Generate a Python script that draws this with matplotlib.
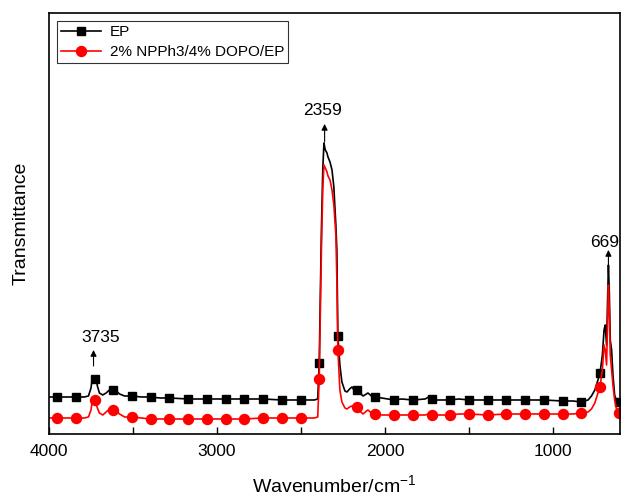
import numpy as np
import matplotlib
matplotlib.use('Agg')
import matplotlib.pyplot as plt

plt.rcParams['font.family'] = ['Liberation Sans', 'DejaVu Sans']
plt.rcParams['mathtext.default'] = 'regular'

# Spectra (arbitrary transmittance units)
wavenumber = [4000, 3952, 3900, 3840, 3790, 3765, 3750, 3742, 3735, 3729,
              3722, 3712, 3700, 3680, 3660, 3640, 3618, 3600, 3580, 3550,
              3506, 3450, 3395, 3340, 3283, 3172, 3060, 2948, 2837, 2726,
              2614, 2502, 2420, 2400, 2391, 2385, 2378, 2370, 2363, 2355,
              2345, 2339, 2327, 2315, 2304, 2292, 2286, 2280, 2268, 2256,
              2238, 2226, 2210, 2196, 2180, 2168, 2150, 2130, 2110, 2101,
              2080, 2056, 2020, 1945, 1900, 1834, 1760, 1740, 1722, 1700,
              1610, 1560, 1499, 1388, 1276, 1164, 1100, 1053, 942, 880,
              830, 790, 770, 750, 735, 719, 705, 695, 688, 680,
              674, 669, 664, 658, 650, 642, 632, 620, 607, 600]

ep = [37, 37, 37, 37, 37, 38, 46, 56, 58, 55,
      57, 48, 41, 39, 41, 44, 44, 43, 40, 38,
      38, 37, 37, 36, 36, 35, 35, 35, 35, 35,
      34, 34, 34, 35, 71, 134, 204, 264, 291, 284,
      281, 277, 272, 264, 247, 209, 184, 98, 69, 52,
      43, 42, 45, 47, 43, 44, 41, 38, 40, 41,
      38, 37, 36, 34, 35, 34, 35, 37, 35, 34,
      34, 35, 34, 34, 34, 34, 34, 34, 33, 33,
      32, 34, 38, 44, 52, 61, 79, 104, 109, 89,
      134, 169, 144, 94, 84, 59, 39, 33, 32, 32]

ep_fr = [16, 16, 16, 16, 16, 17, 24, 34, 37, 34,
         32, 26, 21, 19, 22, 25, 24, 23, 20, 17,
         17, 16, 15, 15, 15, 15, 15, 15, 15, 16,
         16, 16, 16, 17, 55, 114, 184, 244, 269, 266,
         262, 258, 254, 244, 229, 199, 154, 84, 44, 32,
         26, 25, 27, 28, 25, 27, 23, 20, 23, 24,
         21, 20, 19, 19, 19, 19, 19, 20, 19, 19,
         19, 20, 20, 19, 20, 20, 20, 20, 20, 20,
         21, 22, 25, 31, 39, 47, 64, 89, 84, 69,
         114, 149, 124, 79, 64, 49, 34, 24, 21, 21]

marker_wn = [3952, 3840, 3729, 3618, 3506, 3395, 3283, 3172, 3060, 2948,
             2837, 2726, 2614, 2502, 2391, 2280, 2168, 2056, 1945, 1834,
             1722, 1610, 1499, 1388, 1276, 1164, 1053, 942, 830, 719, 607]

peak_labels = ['3735', '2359', '669']
peak_base = [68, 292, 162]
peak_tip = [84, 310, 184]
peak_text = [96, 323, 191]

wavenumber = np.array(wavenumber)
marks = list(np.where(np.isin(wavenumber, marker_wn))[0])

fig = plt.figure(figsize=(6.22, 4.96), dpi=100)
ax = fig.add_axes([0.0788, 0.125, 0.918, 0.849])

ax.plot(wavenumber, ep, '-s', color='black', lw=1.2, ms=6,
        markevery=marks, label='EP')
ax.plot(wavenumber, ep_fr, '-o', color='#ff0000', lw=1.2, ms=7.2,
        markevery=marks, label='2% NPPh3/4% DOPO/EP')

for lab, base, tip, ty in zip(peak_labels, peak_base, peak_tip, peak_text):
    x = float(lab)
    ax.annotate('', xy=(x, tip), xytext=(x, base),
                arrowprops=dict(arrowstyle='-|>', color='black', lw=0.8,
                                mutation_scale=9, shrinkA=0, shrinkB=0))
    tx = x - 40 if lab == '3735' else x + 10 if lab == '2359' else x + 20
    ax.text(tx, ty, lab, ha='center', va='center', fontsize=12.5)

ax.set_xlim(4000, 600)
ax.set_ylim(0, 421)
ax.set_xticks([4000, 3500, 3000, 2500, 2000, 1500, 1000])
ax.set_xticklabels(['4000', '', '3000', '', '2000', '', '1000'])
ax.tick_params(axis='x', direction='in', length=5, width=1, labelsize=12.5, pad=7)
ax.set_yticks([])
for s in ax.spines.values():
    s.set_linewidth(1.2)

ax.set_xlabel('Wavenumber/cm$^{−1}$', fontsize=14, labelpad=11)
ax.set_ylabel('Transmittance', fontsize=14, labelpad=14)

leg = ax.legend(loc='upper left', fontsize=11, frameon=True, fancybox=False,
                edgecolor='black', handlelength=2.6, borderaxespad=0.55,
                borderpad=0.25, labelspacing=0.4, handletextpad=0.6)
leg.get_frame().set_linewidth(0.8)

fig.savefig('out.png', dpi=100)
